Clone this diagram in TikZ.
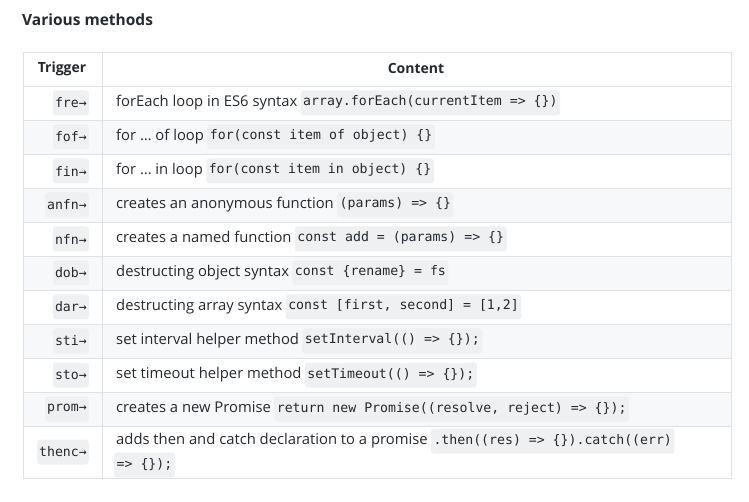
\documentclass[tikz,border=0pt]{standalone}
\usepackage{fontspec}
\setmainfont{Open Sans}
\setmonofont{DejaVu Sans Mono}
\definecolor{bd}{HTML}{DFE2E5}
\definecolor{cbg}{HTML}{EFF0F1}
\definecolor{sh}{HTML}{F6F8FA}
\definecolor{tx}{HTML}{24292E}
\tikzset{
 codebox/.style={fill=cbg,rounded corners=3pt,inner xsep=2.5pt,inner ysep=0pt,minimum height=25pt,font=\fontsize{13.2}{15}\ttfamily,text=tx,anchor=west},
 plain/.style={inner sep=0pt,font=\fontsize{14.8}{17}\selectfont,text=tx,anchor=west},
 trig/.style={fill=cbg,rounded corners=3pt,inner xsep=2pt,inner ysep=0pt,minimum height=25pt,font=\fontsize{13.2}{15}\ttfamily,text=tx,anchor=east},
}
\newcommand{\crow}[5]{%
 \node[trig] (t#3) at (89,#1) {#2};
 \node[plain] (p#3) at (116,#1) {#4\strut};
 \node[codebox] (c#3) at ([xshift=3pt]p#3.east) {#5\strut};}
\begin{document}
\begin{tikzpicture}[x=1pt,y=-1pt]
\useasboundingbox (0,0) rectangle (749,502);
\node[anchor=west,inner sep=0pt,font=\fontsize{15.5}{18}\selectfont\bfseries,text=tx] (title) at (22,20) {Various methods};
\foreach \y in {120,188,256,324,392} \fill[sh] (23,\y) rectangle (731,\y+34);
\draw[bd] (23,52) rectangle (731,478);
\draw[bd] (102,52) -- (102,478);
\foreach \y in {86,120,154,188,222,256,290,324,358,392,426} \draw[bd] (23,\y) -- (731,\y);
\node[font=\fontsize{14}{16}\selectfont\bfseries,text=tx] (h1) at (62,69) {Trigger};
\node[font=\fontsize{14}{16}\selectfont\bfseries,text=tx] (h2) at (416,69) {Content};
\crow{103}{fre→}{a}{forEach loop in ES6 syntax}{array.forEach(currentItem => \{\})}
\crow{137}{fof→}{b}{for … of loop}{for(const item of object) \{\}}
\crow{171}{fin→}{c}{for … in loop}{for(const item in object) \{\}}
\crow{205}{anfn→}{d}{creates an anonymous function}{(params) => \{\}}
\crow{239}{nfn→}{e}{creates a named function}{const add = (params) => \{\}}
\crow{273}{dob→}{f}{destructing object syntax}{const \{rename\} = fs}
\crow{307}{dar→}{g}{destructing array syntax}{const [first, second] = [1,2]}
\crow{341}{sti→}{h}{set interval helper method}{setInterval(() => \{\});}
\crow{375}{sto→}{i}{set timeout helper method}{setTimeout(() => \{\});}
\crow{409}{prom→}{j}{creates a new Promise}{return new Promise((resolve, reject) => \{\});}
\node[trig] (tk) at (89,452) {thenc→};
\node[plain] (pk) at (116,441) {adds then and catch declaration to a promise\strut};
\node[codebox] (ck) at ([xshift=3pt]pk.east) {.then((res) => \{\}).catch((err)\strut};
\node[codebox] (c2k) at (114,465) {=> \{\});\strut};
\end{tikzpicture}
\end{document}
